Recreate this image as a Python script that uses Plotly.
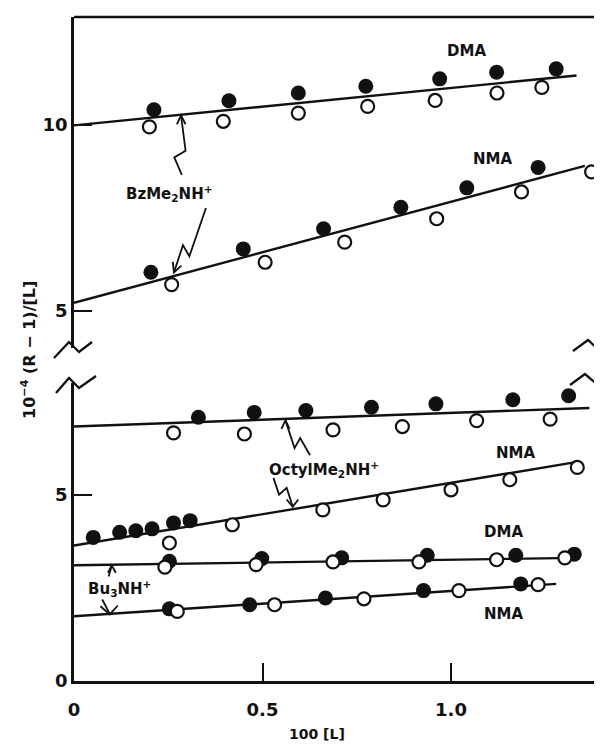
import plotly.graph_objects as go

# ---------------- data ----------------
# Upper panel (BzMe2NH+)
bz_dma_x_filled = [0.212, 0.411, 0.595, 0.774, 0.970, 1.121, 1.279]
bz_dma_y_filled = [10.41, 10.65, 10.86, 11.04, 11.24, 11.42, 11.51]
bz_dma_x_open = [0.200, 0.396, 0.595, 0.779, 0.958, 1.122, 1.241]
bz_dma_y_open = [9.95, 10.10, 10.32, 10.50, 10.66, 10.86, 11.01]
bz_dma_fit_x = [0.0, 1.333]
bz_dma_fit_y = [9.99, 11.33]

bz_nma_x_filled = [0.204, 0.449, 0.662, 0.867, 1.042, 1.231]
bz_nma_y_filled = [6.04, 6.67, 7.21, 7.79, 8.31, 8.86]
bz_nma_x_open = [0.259, 0.507, 0.718, 0.962, 1.187, 1.373]
bz_nma_y_open = [5.71, 6.31, 6.85, 7.48, 8.20, 8.74]
bz_nma_fit_x = [0.0, 1.355]
bz_nma_fit_y = [5.22, 8.90]

# Lower panel (OctylMe2NH+)
oc_dma_x_filled = [0.330, 0.478, 0.615, 0.789, 0.960, 1.164, 1.312]
oc_dma_y_filled = [7.09, 7.22, 7.27, 7.36, 7.45, 7.56, 7.67]
oc_dma_x_open = [0.264, 0.452, 0.687, 0.871, 1.068, 1.263]
oc_dma_y_open = [6.67, 6.64, 6.75, 6.84, 7.00, 7.04]
oc_dma_fit_x = [0.0, 1.367]
oc_dma_fit_y = [6.84, 7.34]

oc_nma_x_filled = [0.051, 0.121, 0.164, 0.207, 0.264, 0.308]
oc_nma_y_filled = [3.86, 4.00, 4.04, 4.09, 4.25, 4.31]
oc_nma_x_open = [0.253, 0.420, 0.660, 0.820, 1.000, 1.156, 1.335]
oc_nma_y_open = [3.71, 4.20, 4.60, 4.87, 5.14, 5.41, 5.74]
oc_nma_fit_x = [0.0, 1.335]
oc_nma_fit_y = [3.64, 5.89]

# Lower panel (Bu3NH+)
bu_dma_x_filled = [0.253, 0.498, 0.710, 0.937, 1.172, 1.327]
bu_dma_y_filled = [3.22, 3.29, 3.31, 3.38, 3.38, 3.41]
bu_dma_x_open = [0.241, 0.483, 0.687, 0.915, 1.121, 1.302]
bu_dma_y_open = [3.06, 3.13, 3.20, 3.20, 3.26, 3.31]
bu_dma_fit_x = [0.0, 1.335]
bu_dma_fit_y = [3.11, 3.31]

bu_nma_x_filled = [0.253, 0.466, 0.667, 0.927, 1.185]
bu_nma_y_filled = [1.94, 2.05, 2.23, 2.43, 2.61]
bu_nma_x_open = [0.274, 0.532, 0.769, 1.021, 1.231]
bu_nma_y_open = [1.87, 2.05, 2.21, 2.43, 2.59]
bu_nma_fit_x = [0.0, 1.279]
bu_nma_fit_y = [1.74, 2.61]

# Axis ticks
x_tickvals = [0, 0.5, 1.0]
x_ticktext = ["0", "0.5", "1.0"]
upper_tickvals = [5, 10]
lower_tickvals = [0, 5]

# Curve labels: (text, x, y, axis)
labels = [
    ("DMA", 1.04, 11.99, "y2"),
    ("NMA", 1.111, 9.09, "y2"),
    ("BzMe<sub>2</sub>NH<sup>+</sup>", 0.253, 8.17, "y2"),
    ("DMA", 1.14, 8.10, "y"),
    ("NMA", 1.171, 6.13, "y"),
    ("OctylMe<sub>2</sub>NH<sup>+</sup>", 0.662, 5.68, "y"),
    ("DMA", 1.14, 4.01, "y"),
    ("NMA", 1.14, 1.80, "y"),
    ("Bu<sub>3</sub>NH<sup>+</sup>", 0.121, 2.48, "y"),
]

# Pointer arrows (decorative): polyline + arrowhead arms, (axis, xs, ys, head)
pointers = [
    ("y2", [0.286, 0.266, 0.296, 0.284], [8.66, 9.13, 9.31, 10.25],
     [(0.273, 10.02), (0.284, 10.26), (0.296, 10.02)]),
    ("y2", [0.350, 0.306, 0.289, 0.266], [7.77, 6.47, 6.77, 6.06],
     [(0.262, 6.32), (0.265, 6.04), (0.285, 6.22)]),
    ("y", [0.626, 0.600, 0.585, 0.561], [6.07, 6.53, 6.26, 7.00],
     [(0.550, 6.78), (0.561, 7.01), (0.572, 6.78)]),
    ("y", [0.529, 0.544, 0.564, 0.580], [5.46, 5.01, 5.19, 4.70],
     [(0.564, 4.88), (0.580, 4.68), (0.595, 4.88)]),
    ("y", [0.092, 0.100], [2.81, 3.10],
     [(0.090, 2.91), (0.100, 3.11), (0.111, 2.91)]),
    ("y", [0.075, 0.095], [2.19, 1.80],
     [(0.070, 2.01), (0.095, 1.79), (0.116, 2.03)]),
]

# ---------------- geometry ----------------
W, H = 602, 745
ML, MR, MT, MB = 66, 14, 9, 72
PW, PH = W - ML - MR, H - MT - MB
BOTTOM = H - MB  # pixel row of y=0
UP_BREAK, LO_BREAK = 340, 375
PX_PER_UNIT_Y = 37.2
PX_PER_UNIT_X = 377.0

up_dom = [(BOTTOM - UP_BREAK) / PH, 1.0]
lo_dom = [0.0, (BOTTOM - LO_BREAK) / PH]
upper_range = [10 - (UP_BREAK - 117) / PX_PER_UNIT_Y, 10 + (117 - MT) / PX_PER_UNIT_Y]
lower_range = [0, (BOTTOM - LO_BREAK) / PX_PER_UNIT_Y]
x_range = [0, PW / PX_PER_UNIT_X]


def pp(px, py):
    return (px - ML) / PW, (BOTTOM - py) / PH


FONT = "DejaVu Sans"
BLACK = "#111111"

fig = go.Figure()


def add_series(xf, yf, xo, yo, fx, fy, yaxis):
    fig.add_trace(go.Scatter(x=fx, y=fy, yaxis=yaxis, mode="lines",
                             line=dict(color=BLACK, width=2.4), hoverinfo="skip"))
    fig.add_trace(go.Scatter(x=xf, y=yf, yaxis=yaxis, mode="markers",
                             marker=dict(size=15, color=BLACK, line=dict(width=0))))
    fig.add_trace(go.Scatter(x=xo, y=yo, yaxis=yaxis, mode="markers",
                             marker=dict(size=13, color="white",
                                         line=dict(width=2.2, color=BLACK))))


add_series(bz_dma_x_filled, bz_dma_y_filled, bz_dma_x_open, bz_dma_y_open,
           bz_dma_fit_x, bz_dma_fit_y, "y2")
add_series(bz_nma_x_filled, bz_nma_y_filled, bz_nma_x_open, bz_nma_y_open,
           bz_nma_fit_x, bz_nma_fit_y, "y2")
add_series(oc_dma_x_filled, oc_dma_y_filled, oc_dma_x_open, oc_dma_y_open,
           oc_dma_fit_x, oc_dma_fit_y, "y")
add_series(oc_nma_x_filled, oc_nma_y_filled, oc_nma_x_open, oc_nma_y_open,
           oc_nma_fit_x, oc_nma_fit_y, "y")
add_series(bu_dma_x_filled, bu_dma_y_filled, bu_dma_x_open, bu_dma_y_open,
           bu_dma_fit_x, bu_dma_fit_y, "y")
add_series(bu_nma_x_filled, bu_nma_y_filled, bu_nma_x_open, bu_nma_y_open,
           bu_nma_fit_x, bu_nma_fit_y, "y")

shapes = []
# top border
shapes.append(dict(type="line", xref="paper", yref="paper", x0=0, x1=1, y0=1, y1=1,
                   line=dict(color=BLACK, width=2.5)))


def zig(x_axis_px, y_px, offsets):
    pts = [pp(x_axis_px + dx, y_px + dy) for dx, dy in offsets]
    path = "M " + " L ".join(f"{a:.4f},{b:.4f}" for a, b in pts)
    return dict(type="path", xref="paper", yref="paper", path=path,
                line=dict(color=BLACK, width=2.3))


RIGHT = W - MR
shapes.append(zig(ML + 1, UP_BREAK, [(-21, 10), (-6, -6), (4, 4), (17, -6)]))
shapes.append(zig(ML + 1, LO_BREAK, [(-19, 10), (-6, -5), (4, 5), (21, -7)]))
shapes.append(zig(RIGHT, UP_BREAK, [(-23, 3), (-8, -8), (3, 2), (14, -7)]))
shapes.append(zig(RIGHT, LO_BREAK, [(-26, 2), (-11, -9), (2, 2), (14, -8)]))

for ax, xs, ys, head in pointers:
    path = "M " + " L ".join(f"{a},{b}" for a, b in zip(xs, ys))
    shapes.append(dict(type="path", xref="x", yref=ax, path=path,
                       line=dict(color=BLACK, width=1.8)))
    hpath = "M " + " L ".join(f"{a},{b}" for a, b in head)
    shapes.append(dict(type="path", xref="x", yref=ax, path=hpath,
                       line=dict(color=BLACK, width=1.8)))

annotations = []
for text, x, y, ax in labels:
    annotations.append(dict(text=text, x=x, y=y, xref="x", yref=ax, showarrow=False,
                            font=dict(family=FONT, size=15, color=BLACK, weight="bold"),
                            xanchor="center", yanchor="middle"))

tx, ty = pp(20, 342)
annotations.append(dict(text="10<sup>\u22124</sup> (R \u2212 1)/[L]", x=tx, y=ty,
                        xref="paper", yref="paper", showarrow=False, textangle=-90,
                        font=dict(family=FONT, size=16, color=BLACK, weight="bold"),
                        xanchor="center", yanchor="middle"))
tx, ty = pp(309, 726)
annotations.append(dict(text="100 [L]", x=tx, y=ty, xref="paper", yref="paper",
                        showarrow=False,
                        font=dict(family=FONT, size=14, color=BLACK, weight="bold"),
                        xanchor="center", yanchor="middle"))

tickfont = dict(family=FONT, size=18, color=BLACK, weight="bold")
common_y = dict(showgrid=False, zeroline=False, showline=True, mirror=True,
                linecolor=BLACK, linewidth=2.5, ticks="inside", ticklen=18,
                tickwidth=2.2, tickcolor=BLACK, tickfont=tickfont)

fig.update_layout(
    width=W, height=H,
    margin=dict(l=ML, r=MR, t=MT, b=MB, pad=0),
    paper_bgcolor="white", plot_bgcolor="white",
    showlegend=False,
    xaxis=dict(range=x_range, domain=[0, 1], anchor="y", showgrid=False, zeroline=False,
               showline=True, linecolor=BLACK, linewidth=2.5,
               tickvals=x_tickvals, ticktext=x_ticktext, ticks="inside", ticklen=18,
               tickwidth=2.2, tickcolor=BLACK, tickfont=tickfont, ticklabelstandoff=11),
    yaxis=dict(range=lower_range, domain=lo_dom, anchor="x", tickvals=lower_tickvals,
               **common_y),
    yaxis2=dict(range=upper_range, domain=up_dom, anchor="x", tickvals=upper_tickvals,
                **common_y),
    shapes=shapes,
    annotations=annotations,
)

fig.write_html("out.html")
